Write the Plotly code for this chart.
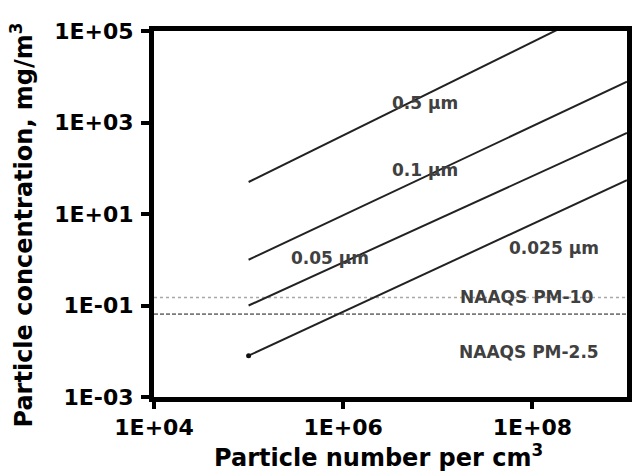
import plotly.graph_objects as go

# ---- data ----
sizes = ["0.5 µm", "0.1 µm", "0.05 µm", "0.025 µm"]
x_start = [1e5, 1e5, 1e5, 1e5]
x_end = [2.4e8, 1e9, 1e9, 1e9]
y_start = [50, 1.0, 0.1, 0.008]
y_end = [1.4e5, 7800, 590, 55]

naaqs_names = ["NAAQS PM-10", "NAAQS PM-2.5"]
naaqs_values = [0.15, 0.065]
naaqs_x = [1e4, 1e9]

x_tickvals = [1e4, 1e6, 1e8]
x_ticktext = ["1E+04", "1E+06", "1E+08"]
y_tickvals = [1e-3, 1e-1, 1e1, 1e3, 1e5]
y_ticktext = ["1E-03", "1E-01", "1E+01", "1E+03", "1E+05"]

# label positions (log10 coordinates)
label_pos = {
    "0.5 µm": (6.86, 3.43),
    "0.1 µm": (6.86, 1.96),
    "0.05 µm": (5.86, 0.04),
    "0.025 µm": (8.23, 0.26),
    "NAAQS PM-10": (7.94, -0.81),
    "NAAQS PM-2.5": (7.96, -2.02),
}

fig = go.Figure()

naaqs_styles = [dict(color="#a8a8a8", width=1.5, dash="3px,3px"),
                dict(color="#7a7a7a", width=1.8, dash="4px,2px")]
for name, val, st in zip(naaqs_names, naaqs_values, naaqs_styles):
    fig.add_trace(go.Scatter(x=naaqs_x, y=[val, val], mode="lines",
                             line=st, showlegend=False, hoverinfo="skip"))

for i, name in enumerate(sizes):
    fig.add_trace(go.Scatter(x=[x_start[i], x_end[i]], y=[y_start[i], y_end[i]],
                             mode="lines", line=dict(color="#222222", width=2),
                             name=name, showlegend=False))

# start dot on the 0.025 µm line
fig.add_trace(go.Scatter(x=[x_start[3]], y=[y_start[3]], mode="markers",
                         marker=dict(color="#111111", size=5), showlegend=False))

for txt, (lx, ly) in label_pos.items():
    fig.add_annotation(x=lx, y=ly, xref="x", yref="y", text=txt, showarrow=False,
                       font=dict(family="DejaVu Sans", size=17, color="#404040",
                                 weight="bold"),
                       xanchor="center", yanchor="middle")

tick_font = dict(family="DejaVu Sans", size=22, color="black", weight="bold")
title_font = dict(family="DejaVu Sans", size=24, color="black", weight="bold")

fig.update_xaxes(type="log", range=[4, 9], tickvals=x_tickvals, ticktext=x_ticktext,
                 showgrid=False, zeroline=False, showline=True, linewidth=5,
                 linecolor="black", mirror=True, ticks="outside", ticklen=7,
                 tickwidth=4, tickcolor="black", tickfont=tick_font)
fig.update_yaxes(type="log", range=[-3, 5], tickvals=y_tickvals, ticktext=y_ticktext,
                 showgrid=False, zeroline=False, showline=True, linewidth=5,
                 linecolor="black", mirror=True, ticks="outside", ticklen=8,
                 tickwidth=4, tickcolor="black", tickfont=tick_font,
                 ticklabelstandoff=3)

fig.add_annotation(xref="paper", yref="paper", x=-0.28, y=0.47, textangle=-90,
                   text="Particle concentration, mg/m<sup>3</sup>", showarrow=False,
                   font=title_font, xanchor="center", yanchor="middle")
fig.add_annotation(xref="paper", yref="paper", x=0.475, y=-0.16,
                   text="Particle number per cm<sup>3</sup>", showarrow=False,
                   font=title_font, xanchor="center", yanchor="middle")

fig.update_layout(width=638, height=472, margin=dict(l=154, r=6, t=31, b=75),
                  plot_bgcolor="white", paper_bgcolor="white")

fig.write_html("out.html")
